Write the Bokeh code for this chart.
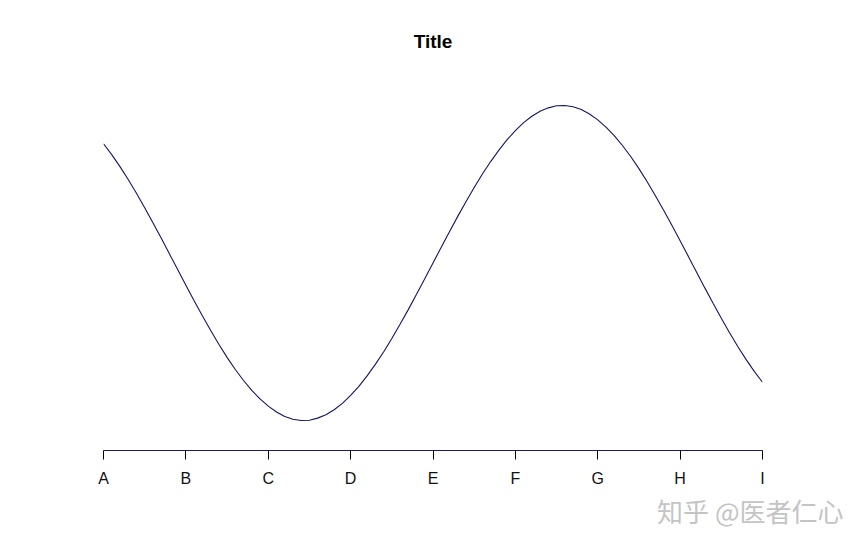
from bokeh.plotting import figure
from bokeh.models import Range1d, FixedTicker, Title
from bokeh.embed import file_html
from bokeh.resources import INLINE

# tick labels
categories = ["A", "B", "C", "D", "E", "F", "G", "H", "I"]
tick_pos = [1, 2, 3, 4, 5, 6, 7, 8, 9]

# curve sample positions (in tick units) and values
curve_x = [1.0, 1.1, 1.2, 1.3, 1.4, 1.5, 1.6, 1.7, 1.8, 1.9,
           2.0, 2.1, 2.2, 2.3, 2.4, 2.5, 2.6, 2.7, 2.8, 2.9,
           3.0, 3.1, 3.2, 3.3, 3.4, 3.5, 3.6, 3.7, 3.8, 3.9,
           4.0, 4.1, 4.2, 4.3, 4.4, 4.5, 4.6, 4.7, 4.8, 4.9,
           5.0, 5.1, 5.2, 5.3, 5.4, 5.5, 5.6, 5.7, 5.8, 5.9,
           6.0, 6.1, 6.2, 6.3, 6.4, 6.5, 6.6, 6.7, 6.8, 6.9,
           7.0, 7.1, 7.2, 7.3, 7.4, 7.5, 7.6, 7.7, 7.8, 7.9,
           8.0, 8.1, 8.2, 8.3, 8.4, 8.5, 8.6, 8.7, 8.8, 8.9, 9.0]
curve_y = [0.757, 0.688, 0.612, 0.530, 0.443, 0.351, 0.256, 0.158, 0.058, -0.042,
           -0.141, -0.239, -0.335, -0.427, -0.516, -0.599, -0.676, -0.746, -0.809, -0.863,
           -0.909, -0.946, -0.974, -0.992, -1.000, -0.998, -0.985, -0.964, -0.932, -0.891,
           -0.841, -0.783, -0.717, -0.644, -0.565, -0.479, -0.389, -0.296, -0.199, -0.100,
           0.000, 0.100, 0.199, 0.296, 0.389, 0.479, 0.565, 0.644, 0.717, 0.783,
           0.841, 0.891, 0.932, 0.964, 0.985, 0.998, 1.000, 0.992, 0.974, 0.946,
           0.909, 0.863, 0.809, 0.746, 0.676, 0.599, 0.516, 0.427, 0.335, 0.239,
           0.141, 0.042, -0.058, -0.158, -0.256, -0.351, -0.443, -0.530, -0.612, -0.688, -0.757]

title_text = "Title"
watermark = "知乎 @医者仁心"

p = figure(width=850, height=530, output_backend="svg", toolbar_location=None,
           x_range=Range1d(1, 9), y_range=Range1d(-1.1905, 1.1587),
           min_border_left=103, min_border_right=88,
           min_border_top=80, min_border_bottom=80)

p.title.text = title_text
p.title.align = "center"
p.title.text_font = "Liberation Sans"
p.title.text_font_style = "bold"
p.title.text_font_size = "19px"
p.title.text_color = "black"
p.title.standoff = 57

p.line(curve_x, curve_y, line_color="#141464", line_width=1.1)

p.yaxis.visible = False
p.grid.visible = False
p.outline_line_color = None

ax = p.xaxis[0]
ax.ticker = FixedTicker(ticks=tick_pos)
ax.major_label_overrides = {t: c for t, c in zip(tick_pos, categories)}
ax.axis_line_color = "#1a1a6e"
ax.axis_line_width = 1.2
ax.major_tick_line_color = "black"
ax.major_tick_line_width = 1
ax.major_tick_out = 9
ax.major_tick_in = 0
ax.minor_tick_line_color = None
ax.major_label_text_font = "Liberation Sans"
ax.major_label_text_font_size = "16px"
ax.major_label_text_color = "#111111"
ax.major_label_standoff = 10

wm = Title(text=watermark, align="right", offset=-81, standoff=0,
           text_font="Noto Sans CJK SC", text_font_style="normal",
           text_font_size="26px", text_color="#c4c4c4")
p.add_layout(wm, "below")

open("out.html", "w").write(file_html(p, INLINE))
